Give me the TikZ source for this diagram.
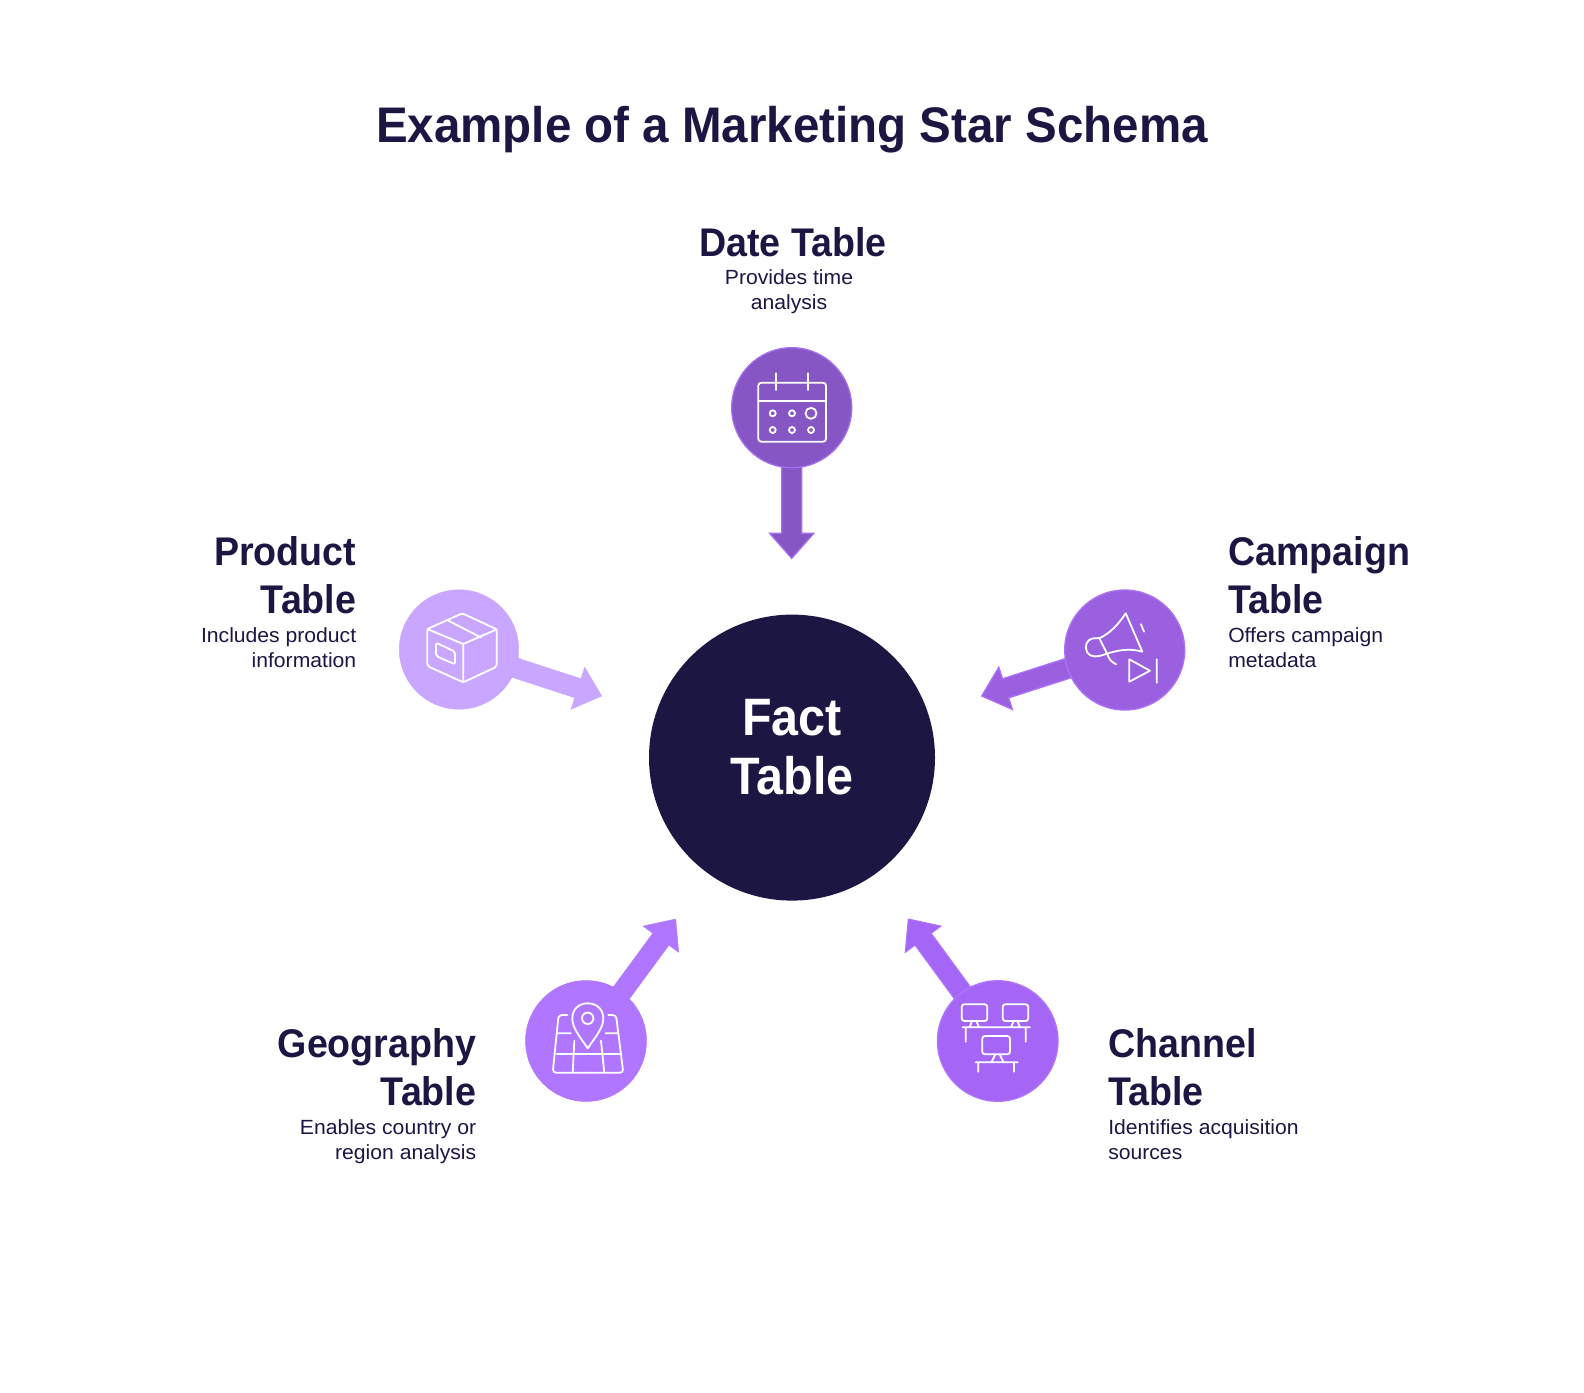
\documentclass[tikz,border=0pt]{standalone}
\usepackage{fontspec}
\usetikzlibrary{calc}
\setmainfont[FakeStretch=1.03]{Liberation Sans}
\newfontfamily\headfont[FakeStretch=0.94]{Liberation Sans}
\newfontfamily\titlefont[FakeStretch=0.95]{Liberation Sans}
\newfontfamily\factfont[FakeStretch=0.92]{Liberation Sans}
\definecolor{ink}{HTML}{1C1643}
\definecolor{datefill}{HTML}{8656C5}
\definecolor{datestroke}{HTML}{A46EEE}
\definecolor{prodfill}{HTML}{C9A6FF}
\definecolor{campfill}{HTML}{9A60E0}
\definecolor{campstroke}{HTML}{AB72F6}
\definecolor{geofill}{HTML}{B176FF}
\definecolor{chanfill}{HTML}{A666F5}
\definecolor{chanstroke}{HTML}{AE74FC}
\pgfdeclarelayer{back}
\pgfsetlayers{back,main}
\tikzset{
  x=0.75pt,y=-0.75pt,
  hub/.style={circle,inner sep=0pt,minimum size=89.6pt,draw=#1},
  fatarrow/.style={to path={
    -- ($($(\tikztotarget)!100pt!(\tikztostart)$)!7.5pt!90:(\tikztotarget)$)
    -- ($($(\tikztotarget)!18.8pt!(\tikztostart)$)!7.5pt!90:(\tikztotarget)$)
    -- ($($(\tikztotarget)!18.8pt!(\tikztostart)$)!16.6pt!90:(\tikztotarget)$)
    -- (\tikztotarget)
    -- ($($(\tikztotarget)!18.8pt!(\tikztostart)$)!16.6pt!-90:(\tikztotarget)$)
    -- ($($(\tikztotarget)!18.8pt!(\tikztostart)$)!7.5pt!-90:(\tikztotarget)$)
    -- ($($(\tikztotarget)!100pt!(\tikztostart)$)!7.5pt!-90:(\tikztotarget)$) -- cycle}},
  icon/.style={draw=white,line width=1.35pt,line cap=round,line join=round},
  head/.style={text=ink,font=\headfont\bfseries\fontsize{30}{36}\selectfont,inner sep=0pt},
  desc/.style={text=ink,font=\fontsize{15.4}{18.2}\selectfont,inner sep=0pt},
}
\begin{document}
\begin{tikzpicture}
\useasboundingbox (0,0) rectangle (1584,1392);
\begin{pgfonlayer}{back}
\fill[white] (0,0) rectangle (1584,1392);
\end{pgfonlayer}
% hubs
\node[circle,fill=ink,inner sep=0pt,minimum size=214.5pt,text=white] (fact) at (792,757.6) {};
\node[font=\factfont\bfseries\fontsize{39.5}{44.3}\selectfont,text=white,align=center,inner sep=0pt] (factlabel) at (792,747) {Fact\\Table};
\node[hub=datestroke,fill=datefill,line width=1pt,minimum size=90pt] (date) at (791.7,407.7) {};
\node[hub=prodfill,fill=prodfill,line width=.3pt] (prod) at (459,649.5) {};
\node[hub=campstroke,fill=campfill,line width=1pt,minimum size=90pt] (camp) at (1124.7,650) {};
\node[hub=geofill,fill=geofill,line width=.5pt,minimum size=90.6pt] (geo) at (586,1041) {};
\node[hub=chanstroke,fill=chanfill,line width=1pt,minimum size=90.4pt] (chan) at (997.7,1041) {};
\coordinate (datetip) at (791.7,558.3);
\coordinate (prodtip) at (601.7,696);
\coordinate (camptip) at (981.7,696);
\coordinate (geotip) at (675.7,919);
\coordinate (chantip) at (908.3,919);
% connectors
\begin{pgfonlayer}{back}
\draw[fatarrow,fill=datefill,draw=datestroke,line width=1pt] (date.center) to (datetip);
\draw[fatarrow,fill=prodfill,draw=prodfill,line width=.3pt] (prod.center) to (prodtip);
\draw[fatarrow,fill=campfill,draw=campstroke,line width=1pt] (camp.center) to (camptip);
\draw[fatarrow,fill=geofill,draw=geofill,line width=.3pt] (geo.center) to (geotip);
\draw[fatarrow,fill=chanfill,draw=chanstroke,line width=.8pt] (chan.center) to (chantip);
\end{pgfonlayer}
% title and labels
\node[text=ink,font=\titlefont\bfseries\fontsize{37.5}{44}\selectfont,inner sep=0pt,anchor=base] (title) at (792,142) {Example of a Marketing Star Schema};
\node[head,anchor=base] (dateh) at (793,256.2) {Date Table};
\node[desc,anchor=base,align=center] (dated) at (789,309) {Provides time\\analysis};
\node[head,anchor=base east,align=right] (prodh) at (356.5,613) {Product\\Table};
\node[desc,anchor=base east,align=right] (prodd) at (356.5,667) {Includes product\\information};
\node[head,anchor=base west,align=left] (camph) at (1228,613) {Campaign\\Table};
\node[desc,anchor=base west,align=left] (campd) at (1228,667) {Offers campaign\\metadata};
\node[head,anchor=base east,align=right] (geoh) at (476.5,1105) {Geography\\Table};
\node[desc,anchor=base east,align=right] (geod) at (476.5,1159) {Enables country or\\region analysis};
\node[head,anchor=base west,align=left] (chanh) at (1108,1105) {Channel\\Table};
\node[desc,anchor=base west,align=left] (chand) at (1108,1159) {Identifies acquisition\\sources};
% calendar icon
\draw[icon,rounded corners=2.2pt] (758.3,382.7) rectangle (826,441.7);
\draw[icon] (758.3,401) -- (826,401) (776,373.3) -- (776,390) (807.7,373.3) -- (807.7,390);
\draw[icon] (772.7,413.3) circle[radius=3] (792,413.3) circle[radius=3] (811,413.3) circle[radius=5.5]
  (772.7,430) circle[radius=3] (792,430) circle[radius=3] (811,430) circle[radius=3];
% box icon
\draw[icon,rounded corners=1.5pt] (462.3,613.3) -- (496.7,629.3) -- (496.7,666.7) -- (463.3,682.3) -- (427.3,666) -- (427.3,629) -- cycle;
\draw[icon] (427.3,629) -- (463.3,644) -- (496.7,629.3) (463.3,644) -- (463.3,682.3) (448.3,620.7) -- (480.7,637.3);
\draw[icon,rounded corners=1.5pt] (436,642.7) -- (455,651.7) -- (455,664.3) -- (436,656) -- cycle;
% megaphone icon
\draw[icon] (1125.7,613.3) -- (1142.3,651.7) .. controls (1130,648) and (1118,650) .. (1106,654)
  .. controls (1098,657) and (1090,658) .. (1087,652) .. controls (1084,646) and (1087,640) .. (1092,638.5)
  .. controls (1095,638) and (1097,638.5) .. (1100,638) .. controls (1110,633) and (1118,625) .. (1125.7,613.3);
\draw[icon] (1099.3,638.3) -- (1107.3,654) .. controls (1109,660) and (1112,662) .. (1116,664.3);
\draw[icon] (1141,624.3) -- (1144,631.7);
\draw[icon] (1129.3,659.3) -- (1150,670.7) -- (1129.3,681.7) -- cycle (1156.7,659.3) -- (1156.7,682.7);
% map pin icon
\draw[icon] (587.7,1048.3) .. controls (580,1037) and (572.3,1028) .. (572.3,1018.5)
  .. controls (572.3,1009) and (579,1003.3) .. (587.7,1003.3)
  .. controls (596.4,1003.3) and (603.3,1009) .. (603.3,1018.5)
  .. controls (603.3,1028) and (595.4,1037) .. (587.7,1048.3) -- cycle;
\draw[icon] (587.7,1018.3) circle[radius=5.7];
\draw[icon,rounded corners=2.5pt] (567.3,1015) -- (558.6,1015) -- (552.7,1072.7) -- (623.3,1072.7) -- (616,1015) -- (608.3,1015);
\draw[icon] (556.7,1054) -- (620.7,1054) (558.3,1033.3) -- (570.7,1033.3) (605.7,1033.3) -- (617.3,1033.3)
  (574.3,1040.7) -- (572.7,1072.7) (601,1040.7) -- (604.3,1072.7);
% monitors icon
\draw[icon,rounded corners=2pt] (961.7,1004.3) rectangle (987.3,1021);
\draw[icon,rounded corners=2pt] (1002.7,1004.3) rectangle (1028.3,1021);
\draw[icon,rounded corners=2pt] (982.3,1036) rectangle (1010,1054.3);
\draw[icon] (971.7,1021.7) -- (969.7,1027.3) (976.7,1021.7) -- (979,1027.3)
  (1013.3,1021.7) -- (1011,1027.3) (1017.7,1021.7) -- (1020,1027.3)
  (962.7,1027.3) -- (1030,1027.3) (965.7,1027.3) -- (965.7,1041.7) (1025.7,1027.3) -- (1025.7,1041.7)
  (995,1055) -- (991.7,1061.7) (1000,1055) -- (1003.3,1061.7)
  (975.7,1062.3) -- (1017.7,1062.3) (978.3,1062.3) -- (978.3,1071.7) (1014,1062.3) -- (1014,1071.7);
\end{tikzpicture}
\end{document}
